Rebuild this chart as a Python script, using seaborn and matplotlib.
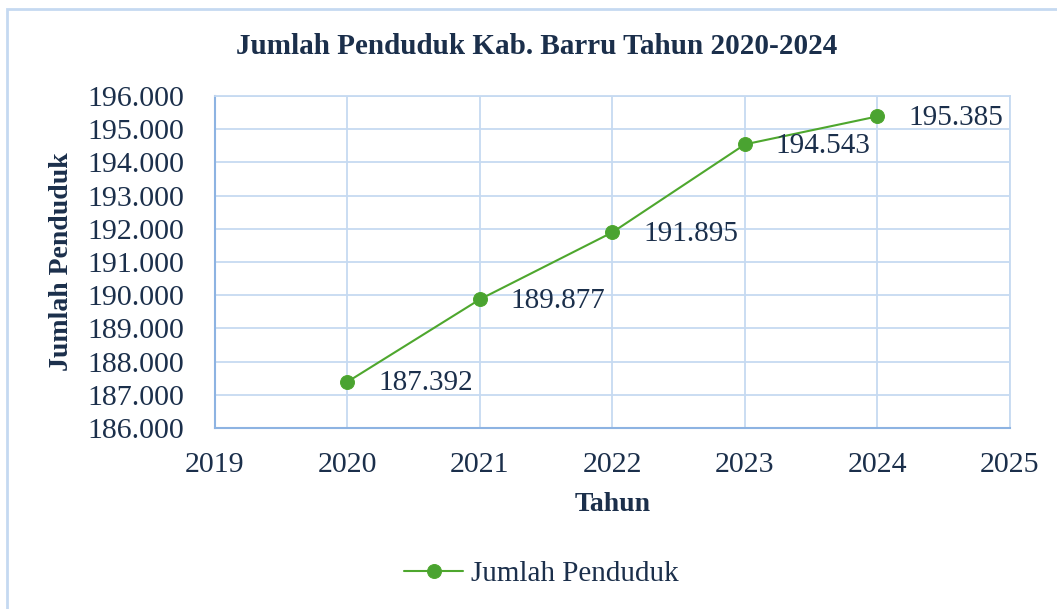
import matplotlib
matplotlib.use("Agg")
import matplotlib.pyplot as plt
import matplotlib.ticker as mticker
from matplotlib.patches import Rectangle
import pandas as pd
import seaborn as sns

# Data
tahun = [2020, 2021, 2022, 2023, 2024]
penduduk = [187392, 189877, 191895, 194543, 195385]
judul = "Jumlah Penduduk Kab. Barru Tahun 2020-2024"
seri = "Jumlah Penduduk"

df = pd.DataFrame({"Tahun": tahun, seri: penduduk})

sns.set_theme(style="white")
plt.rcParams["font.family"] = ["Liberation Serif", "DejaVu Serif"]

text_color = "#1b2f4b"
green = "#4ea72e"
grid_color = "#c6daf1"
spine_color = "#8db3e2"

fig = plt.figure(figsize=(10.57, 6.09), dpi=100)
ax = fig.add_axes([0.2034, 0.2972, 0.7521, 0.5452])

sns.lineplot(data=df, x="Tahun", y=seri, ax=ax, color=green, linewidth=1.5,
             marker="o", markersize=10, markeredgecolor=green,
             markerfacecolor="#4aa331", label=seri)

# Data labels to the right of each point
for x, y in zip(tahun, penduduk):
    ax.annotate(f"{y:,}".replace(",", "."), (x, y), xytext=(22, -1),
                textcoords="offset points", va="center", ha="left",
                fontsize=21, color=text_color)

ax.set_xlim(2019, 2025)
ax.set_ylim(186000, 196000)
ax.xaxis.set_major_locator(mticker.MultipleLocator(1))
ax.yaxis.set_major_locator(mticker.MultipleLocator(1000))
ax.yaxis.set_major_formatter(
    mticker.FuncFormatter(lambda v, p: f"{v:,.0f}".replace(",", ".")))

ax.grid(True, color=grid_color, linewidth=1.3)
ax.set_axisbelow(True)
for s in ["top", "right"]:
    ax.spines[s].set_color(grid_color)
    ax.spines[s].set_linewidth(1.3)
for s in ["left", "bottom"]:
    ax.spines[s].set_color(spine_color)
    ax.spines[s].set_linewidth(1.5)

ax.tick_params(axis="both", length=0, labelsize=21.5, labelcolor=text_color)
ax.tick_params(axis="x", pad=17)
ax.tick_params(axis="y", pad=22)

ax.set_xlabel("Tahun", fontsize=20, fontweight="bold", color=text_color, labelpad=10)
ax.set_ylabel("Jumlah Penduduk", fontsize=20, fontweight="bold", color=text_color, labelpad=10)

fig.text(0.508, 0.924, judul, ha="center", va="center", fontsize=21,
         fontweight="bold", color=text_color)

leg = ax.legend(loc="center", bbox_to_anchor=(0.411, -0.44), frameon=False,
                fontsize=21, handlelength=2.0, handletextpad=0.3)
for t in leg.get_texts():
    t.set_color(text_color)

# Chart area border
fig.patches.append(Rectangle((0.007, -0.02), 1.0, 1.005, transform=fig.transFigure,
                             fill=False, edgecolor="#c5d9f1", linewidth=2))

fig.savefig("out.png", dpi=100)
